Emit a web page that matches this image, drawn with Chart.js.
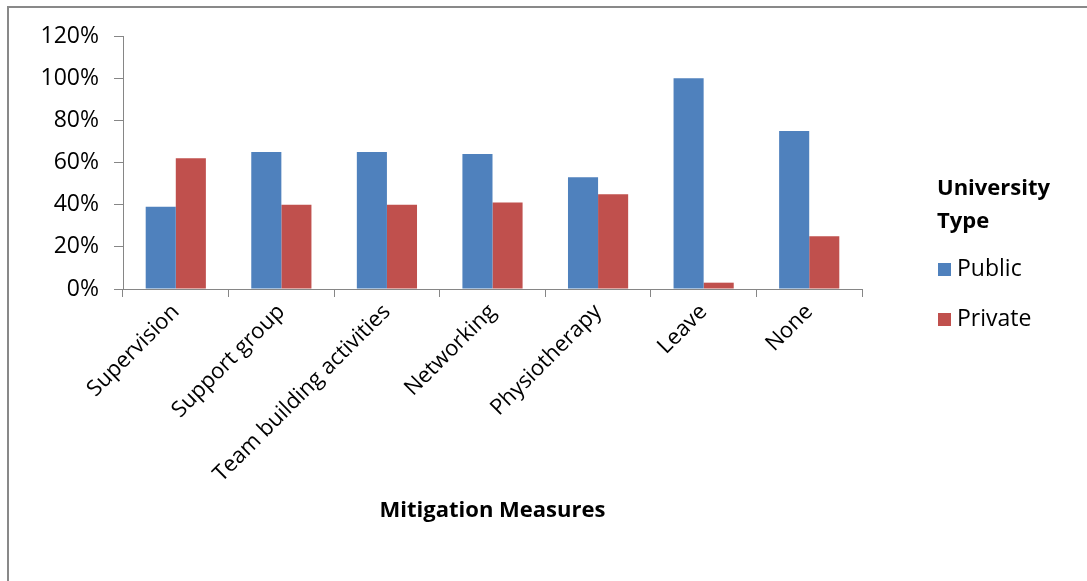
<!DOCTYPE html>
<html>
<head>
<meta charset="utf-8">
<script src="https://cdn.jsdelivr.net/npm/chart.js@4"></script>
<style>
	body { margin: 0; background: #fff; }
	#wrap { position: relative; width: 1087px; height: 581px; }
	#frame { position: absolute; left: 7px; top: 6px; right: 0; bottom: 0; border-left: 2px solid #898989; border-top: 2px solid #898989; pointer-events: none; }
	canvas { position: absolute; left: 0; top: 0; }
</style>
</head>
<body>
<div id="wrap">
	<canvas id="js-canvas" width="1087" height="581"></canvas>
	<div id="frame"></div>
</div>
<script>
const canvas = document.getElementById('js-canvas')

// Mitigation measures and share of respondents per university type
const categories = ['Supervision', 'Support group', 'Team building activities', 'Networking', 'Physiotherapy', 'Leave', 'None']
const publicValues = [0.39, 0.65, 0.65, 0.64, 0.53, 1.00, 0.75]
const privateValues = [0.62, 0.40, 0.40, 0.41, 0.45, 0.03, 0.25]
const seriesNames = ['Public', 'Private']
const legendTitle = ['University', 'Type']
const axisTitle = 'Mitigation Measures'

const FONT = "'Open Sans', sans-serif"
const AXIS_COLOR = '#868686'

// Legend drawn by hand, the title needs two lines
const sideLegend = {
	id: 'sideLegend',
	afterDraw(chart) {
		const ctx = chart.ctx
		ctx.save()
		ctx.textBaseline = 'middle'
		ctx.textAlign = 'left'
		ctx.fillStyle = '#000'
		ctx.font = `bold 22px ${FONT}`
		ctx.fillText(legendTitle[0], 937, 189)
		ctx.fillText(legendTitle[1], 937, 222)
		ctx.font = `23px ${FONT}`
		chart.data.datasets.forEach((ds, i) => {
			const y = 269 + i * 50
			ctx.fillStyle = ds.backgroundColor
			ctx.fillRect(938, y - 6, 13, 13)
			ctx.fillStyle = '#000'
			ctx.fillText(ds.label, 957, y)
		})
		ctx.restore()
	}
}

const chart = new Chart(canvas, {
	type: 'bar',
	data: {
		labels: categories,
		datasets: [
			{
				label: seriesNames[0],
				data: publicValues,
				backgroundColor: '#4F81BD',
				categoryPercentage: 0.57,
				barPercentage: 1
			},
			{
				label: seriesNames[1],
				data: privateValues,
				backgroundColor: '#C0504D',
				categoryPercentage: 0.57,
				barPercentage: 1
			}
		]
	},
	options: {
		responsive: false,
		animation: false,
		layout: {
			padding: { left: 0, top: 36, right: 225, bottom: 57 }
		},
		plugins: {
			legend: { display: false },
			tooltip: { enabled: false }
		},
		scales: {
			x: {
				grid: {
					drawOnChartArea: false,
					drawTicks: true,
					tickLength: 8,
					color: AXIS_COLOR
				},
				border: { color: AXIS_COLOR, width: 1 },
				ticks: {
					minRotation: 45,
					maxRotation: 45,
					padding: 2,
					color: '#000',
					font: { family: FONT, size: 22 }
				},
				title: {
					display: true,
					text: axisTitle,
					color: '#000',
					padding: 0,
					font: { family: FONT, size: 22, weight: 'bold' }
				},
				afterFit: (scale) => { scale.height = 235 }
			},
			y: {
				min: 0,
				max: 1.2,
				grid: {
					drawOnChartArea: false,
					drawTicks: true,
					tickLength: 9,
					color: AXIS_COLOR
				},
				border: { color: AXIS_COLOR, width: 1 },
				ticks: {
					stepSize: 0.2,
					padding: 15,
					color: '#000',
					font: { family: FONT, size: 23 },
					callback: (v) => Math.round(v * 100) + '%'
				},
				afterFit: (scale) => { scale.width = 123 }
			}
		}
	},
	plugins: [sideLegend]
})
</script>
</body>
</html>
